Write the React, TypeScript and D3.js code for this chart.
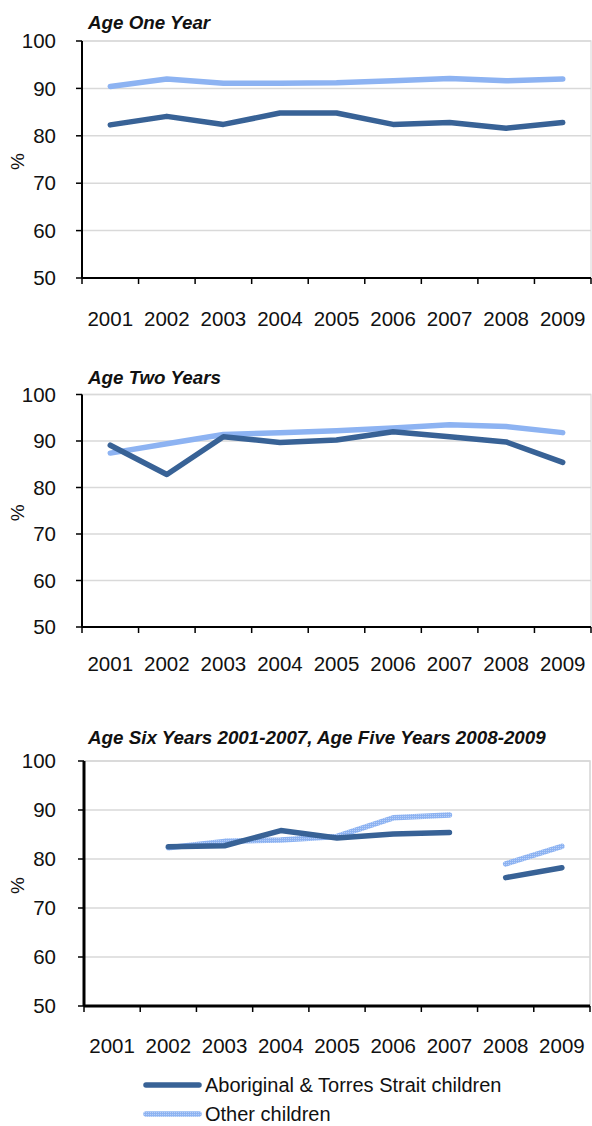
import * as d3 from 'd3'

const years = ['2001', '2002', '2003', '2004', '2005', '2006', '2007', '2008', '2009']
const yTicks = [50, 60, 70, 80, 90, 100]

const oneYearAboriginal = [82.3, 84.1, 82.4, 84.8, 84.8, 82.4, 82.8, 81.6, 82.8]
const oneYearOther = [90.4, 92.0, 91.1, 91.1, 91.2, 91.6, 92.1, 91.6, 92.0]

const twoYearAboriginal = [89.1, 82.8, 90.9, 89.7, 90.2, 92.0, 90.9, 89.8, 85.4]
const twoYearOther = [87.4, 89.4, 91.4, 91.8, 92.2, 92.8, 93.5, 93.1, 91.8]

// age six up to 2007, age five from 2008 (series break between)
const schoolAboriginal = [null, 82.5, 82.7, 85.8, 84.3, 85.1, 85.4, 76.2, 78.2]
const schoolOther = [null, 82.3, 83.6, 83.9, 84.6, 88.4, 89.0, 79.0, 82.6]
const schoolGroup = ['six', 'six', 'six', 'six', 'six', 'six', 'six', 'five', 'five']

const seriesNames = ['Aboriginal & Torres Strait children', 'Other children']

const DARK = '#386296'
const LIGHT = '#8db3f2'
const FONT = 'Liberation Sans, Arial, sans-serif'

type Panel = {
  title: string
  titleY: number
  titleSize: number
  top: number
  bottom: number
  left: number
  right: number
  labelY: number
  axisWidth: number
  border: string
  aboriginal: (number | null)[]
  other: (number | null)[]
  groups?: string[]
  textured: boolean
}

const panels: Panel[] = [
  {
    title: 'Age One Year', titleY: 29, titleSize: 18.8,
    top: 41, bottom: 278, left: 82, right: 591, labelY: 326,
    axisWidth: 2, border: '#e4e4e4',
    aboriginal: oneYearAboriginal, other: oneYearOther, textured: false,
  },
  {
    title: 'Age Two Years', titleY: 384, titleSize: 18.8,
    top: 394.5, bottom: 627, left: 82, right: 591, labelY: 671,
    axisWidth: 2, border: '#e4e4e4',
    aboriginal: twoYearAboriginal, other: twoYearOther, textured: false,
  },
  {
    title: 'Age Six Years 2001-2007, Age Five Years 2008-2009', titleY: 744, titleSize: 18.8,
    top: 761, bottom: 1006, left: 84, right: 590, labelY: 1053,
    axisWidth: 3, border: '#d4d4d4',
    aboriginal: schoolAboriginal, other: schoolOther, groups: schoolGroup, textured: true,
  },
]

function ChartPanel({ p }: { p: Panel }) {
  const x = d3.scaleBand<string>().domain(years).range([p.left, p.right])
  const y = d3.scaleLinear().domain([50, 100]).range([p.bottom, p.top])
  const cx = (i: number) => (x(years[i]) ?? 0) + x.bandwidth() / 2

  const pathsFor = (vals: (number | null)[]) => {
    const groups = p.groups ?? years.map(() => 'all')
    const keys = Array.from(new Set(groups))
    return keys.map(k => {
      const line = d3.line<number | null>()
        .defined((d, i) => d != null && groups[i] === k)
        .x((_, i) => cx(i))
        .y(d => y(d as number))
      return line(vals) ?? ''
    })
  }

  const midY = (p.top + p.bottom) / 2

  return (
    <g>
      {/* plot border */}
      <rect x={p.left} y={p.top} width={p.right - p.left} height={p.bottom - p.top}
        fill="none" stroke={p.border} strokeWidth={1.5} />
      {yTicks.filter(t => t > 50).map(t => (
        <line key={t} x1={p.left} x2={p.right} y1={y(t)} y2={y(t)} stroke="#d9d9d9" strokeWidth={1.5} />
      ))}
      {/* y axis */}
      <line x1={p.left} x2={p.left} y1={p.top} y2={p.bottom} stroke="#000" strokeWidth={p.axisWidth} />
      {yTicks.map(t => (
        <g key={t}>
          <line x1={p.left - 6} x2={p.left} y1={y(t)} y2={y(t)} stroke="#000" strokeWidth={1.5} />
          <text x={56} y={y(t)} dy="0.35em" textAnchor="end" fontSize={20.5} fill="#111">{t}</text>
        </g>
      ))}
      {/* x axis */}
      <line x1={p.left} x2={p.right} y1={p.bottom} y2={p.bottom} stroke="#000" strokeWidth={p.axisWidth} />
      {years.concat(['']).map((yr, i) => {
        const tx = i < years.length ? (x(yr) ?? 0) : p.right
        return <line key={i} x1={tx} x2={tx} y1={p.bottom} y2={p.bottom + 6} stroke="#000" strokeWidth={1.5} />
      })}
      {years.map((yr, i) => (
        <text key={yr} x={cx(i)} y={p.labelY} textAnchor="middle" fontSize={20.5} fill="#111">{yr}</text>
      ))}
      <text transform={`translate(24,${midY + 2}) rotate(-90)`} textAnchor="middle" fontSize={19} fill="#111">%</text>
      <text x={88} y={p.titleY} fontSize={p.titleSize} fontWeight="bold" fontStyle="italic" fill="#111">{p.title}</text>

      {pathsFor(p.other).map((d, i) => (
        <path key={'o' + i} d={d} fill="none" stroke={p.textured ? 'url(#lightTex)' : LIGHT}
          strokeWidth={5.5} strokeLinecap="round" strokeLinejoin="round" />
      ))}
      {pathsFor(p.aboriginal).map((d, i) => (
        <path key={'a' + i} d={d} fill="none" stroke={DARK}
          strokeWidth={5.5} strokeLinecap="round" strokeLinejoin="round" />
      ))}
    </g>
  )
}

export default function App() {
  const legendY = [1085, 1114]
  return (
    <svg width={592} height={1126} style={{ position: 'absolute', left: 0, top: 0, background: '#fff' }}
      fontFamily={FONT}>
      <defs>
        <pattern id="lightTex" patternUnits="userSpaceOnUse" width={2} height={2}>
          <rect width={2} height={2} fill={LIGHT} />
          <rect width={1} height={1} fill="#b9d0f7" />
        </pattern>
      </defs>
      <rect width={592} height={1126} fill="#fff" />
      {panels.map(p => <ChartPanel key={p.title} p={p} />)}

      {seriesNames.map((name, i) => (
        <g key={name}>
          <line x1={146} x2={199} y1={legendY[i]} y2={legendY[i]}
            stroke={i === 0 ? DARK : 'url(#lightTex)'} strokeWidth={5.5} strokeLinecap="round" />
          <text x={205} y={legendY[i]} dy="0.35em" fontSize={20} fill="#111">{name}</text>
        </g>
      ))}
    </svg>
  )
}
